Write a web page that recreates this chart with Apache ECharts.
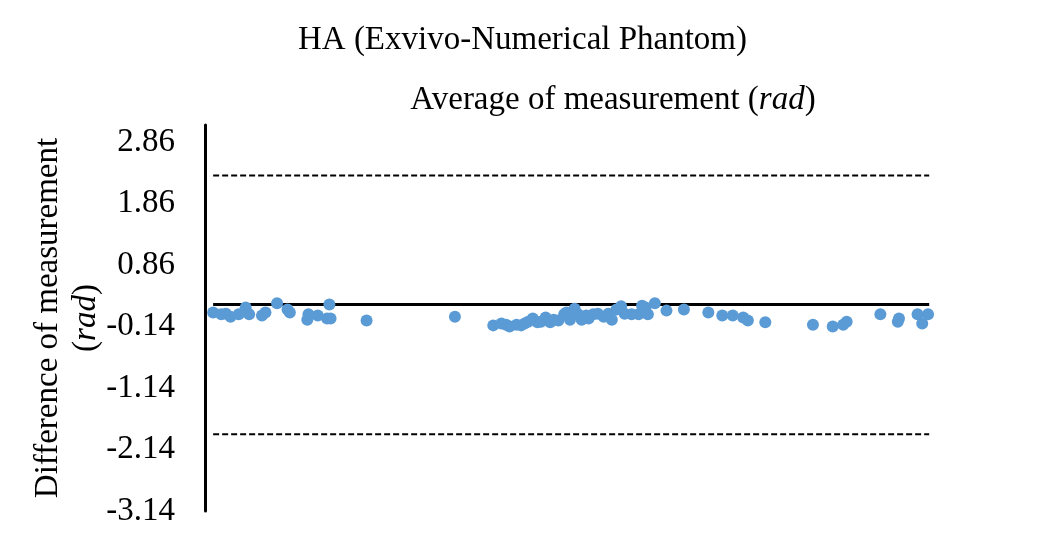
<!DOCTYPE html>
<html>
<head>
<meta charset="utf-8">
<script src="https://cdn.jsdelivr.net/npm/echarts@6/dist/echarts.min.js"></script>
<style>
  html, body { margin: 0; padding: 0; background: #fff; }
  #chart { width: 1045px; height: 539px; }
</style>
</head>
<body>
<div id="chart"></div>
<script>
// Bland-Altman style data (rad)
const avgX = [
  -3.07, -3.00, -2.96, -2.92, -2.85, -2.79, -2.76, -2.65, -2.62, -2.52,
  -2.43, -2.41, -2.26, -2.25, -2.17, -2.09, -2.07, -2.06, -1.75, -0.99,
  -0.66, -0.59, -0.55, -0.52, -0.46, -0.42, -0.39, -0.36, -0.32, -0.28,
  -0.25, -0.21, -0.17, -0.14, -0.10, -0.05, -0.03, 0.00, 0.04, 0.07,
  0.10, 0.14, 0.16, 0.20, 0.24, 0.29, 0.33, 0.36, 0.40, 0.44,
  0.47, 0.53, 0.59, 0.62, 0.65, 0.67, 0.73, 0.83, 0.98, 1.19,
  1.31, 1.40, 1.49, 1.53, 1.68, 2.09, 2.26, 2.35, 2.38, 2.67,
  2.82, 2.83, 2.99, 3.03, 3.08
]
const diffY = [
  0.09, 0.06, 0.07, 0.02, 0.06, 0.17, 0.06, 0.04, 0.09, 0.24,
  0.14, 0.09, -0.03, 0.06, 0.04, -0.01, 0.22, -0.01, -0.04, 0.02,
  -0.12, -0.09, -0.11, -0.14, -0.11, -0.12, -0.09, -0.06, -0.01, -0.07,
  -0.06, 0.01, -0.07, -0.03, -0.04, 0.06, 0.09, -0.03, 0.15, 0.06,
  -0.03, 0.04, -0.01, 0.06, 0.07, 0.02, 0.07, -0.03, 0.14, 0.19,
  0.07, 0.06, 0.06, 0.20, 0.17, 0.06, 0.24, 0.12, 0.14, 0.09,
  0.04, 0.04, 0.01, -0.04, -0.07, -0.11, -0.14, -0.11, -0.06, 0.06,
  -0.06, -0.01, 0.06, -0.09, 0.06
]
const lineX = [-3.07, 3.09]
const meanDiff = 0.22
const upperLoA = 2.32
const lowerLoA = -1.89
const yMin = -3.14
const yMax = 3.14

const FONT = "'Liberation Serif', 'Times New Roman', serif"
const italic = { fontStyle: 'italic', fontSize: 33, fontFamily: FONT, color: '#000' }

const chart = echarts.init(document.getElementById('chart'))

function hLine(y, dashed) {
  return {
    type: 'line',
    data: lineX.map((x) => [x, y]),
    symbol: 'none',
    silent: true,
    z: 1,
    lineStyle: dashed
      ? { color: '#000', width: 2, type: [6, 3] }
      : { color: '#000', width: 3 },
  }
}

chart.setOption({
  animation: false,
  title: {
    text: 'HA (Exvivo-Numerical Phantom)',
    left: 'center',
    top: 19,
    textStyle: { fontFamily: FONT, fontSize: 33, fontWeight: 'normal', color: '#000' },
  },
  grid: { left: 205, right: 110, top: 125, bottom: 28 },
  xAxis: {
    type: 'value',
    position: 'top',
    min: -3.14,
    max: 3.14,
    name: 'Average of measurement ({i|rad})',
    nameLocation: 'middle',
    nameGap: 8,
    nameTextStyle: {
      fontFamily: FONT, fontSize: 33, color: '#000',
      padding: [0, 0, 0, 86],
      rich: { i: italic },
    },
    axisLine: { show: false },
    axisTick: { show: false },
    axisLabel: { show: false },
    splitLine: { show: false },
  },
  yAxis: {
    type: 'value',
    min: yMin,
    max: yMax,
    interval: 1,
    name: 'Difference of measurement\n({i|rad})',
    nameLocation: 'middle',
    nameRotate: 90,
    nameGap: 100,
    nameMoveOverlap: false,
    nameTextStyle: {
      fontFamily: FONT, fontSize: 33, color: '#000', lineHeight: 38,
      rich: { i: Object.assign({ lineHeight: 38 }, italic) },
    },
    axisLine: { show: true, onZero: false, lineStyle: { color: '#000', width: 3 } },
    axisTick: { show: false },
    axisLabel: {
      showMaxLabel: false,
      margin: 30,
      fontFamily: FONT,
      fontSize: 33,
      color: '#000',
      formatter: (v) => v.toFixed(2),
    },
    splitLine: { show: false },
  },
  series: [
    hLine(upperLoA, true),
    hLine(meanDiff, false),
    hLine(lowerLoA, true),
    {
      type: 'scatter',
      data: avgX.map((x, i) => [x, diffY[i]]),
      symbolSize: 12,
      z: 3,
      itemStyle: { color: '#5B9BD5', opacity: 1 },
    },
  ],
})
</script>
</body>
</html>
